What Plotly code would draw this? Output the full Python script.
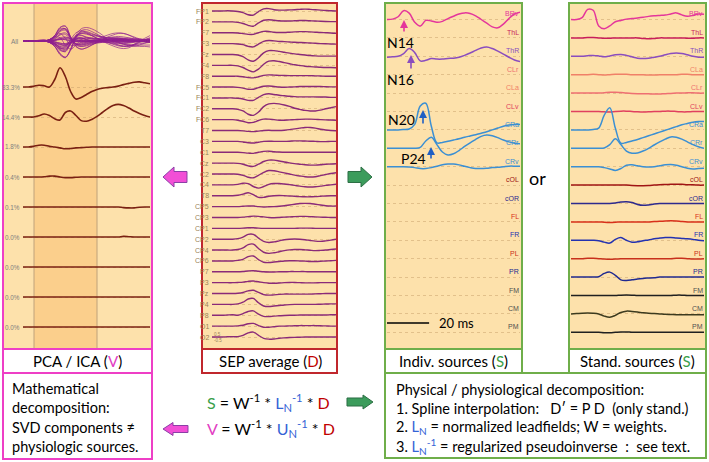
import plotly.graph_objects as go

# ------------------------------------------------------------------ data
time_ms = [0, 2.5, 5, 7.5, 10, 12.5, 15, 17.5, 20, 22.5, 25, 27.5, 30,
           32.5, 35, 37.5, 40, 42.5, 45, 47.5, 50, 52.5, 55, 57.5, 60]

# PCA / ICA components (left panel)
pca_labels = ["83.3%", "14.4%", "1.8%", "0.4%", "0.1%", "0.0%", "0.0%", "0.0%", "0.0%"]
pca_1 = [0, 0, 0.02, 0.06, 0.04, 0.0, 0.25, 0.64, 0.35, -0.15, -0.4, -0.35, -0.25,
         -0.15, -0.08, -0.04, -0.02, 0, 0.03, 0.08, 0.12, 0.16, 0.17, 0.14, 0.11]
pca_2 = [0, 0, 0, 0.04, 0.1, 0.05, -0.06, -0.1, 0.15, 0.2, 0.05, -0.12, -0.14,
         -0.08, 0.02, 0.15, 0.28, 0.38, 0.42, 0.38, 0.3, 0.2, 0.12, 0.05, 0.0]
pca_3 = [0, 0, 0.02, 0.06, 0.06, 0.02, 0, -0.03, -0.06, -0.05, -0.03, -0.02, -0.01,
         0, 0, 0, 0, 0, 0, 0, 0, 0, 0, 0, 0]
pca_4 = [0, 0, 0, 0, 0.01, 0.03, 0.03, 0, -0.02, -0.02, -0.01, 0, 0,
         0, 0, 0, 0, 0, 0, 0, 0, 0, 0, 0, 0]
pca_5 = [0, 0, 0, 0, 0, 0, 0, 0, 0, 0, 0, 0, 0,
         0, 0, 0, 0, 0, 0, -0.02, -0.03, -0.03, -0.01, 0, 0]
pca_6 = [0, 0, 0, 0, 0, 0, 0, 0, 0, 0, 0, 0, 0,
         0, 0, 0, 0, 0, 0, 0.02, 0.01, 0, 0, 0, 0]
pca_7 = [0, 0, 0, 0, 0, 0, 0, 0, 0, 0, 0, 0, 0,
         0, 0, 0, 0, 0, 0, 0, 0, 0, 0, 0, 0]
pca_8 = [0, 0, 0, 0, 0, 0, 0, 0, 0, 0, 0, 0, 0,
         0, 0, 0, 0, 0, 0, 0, 0, 0, 0, 0, 0]
pca_9 = [0, 0, 0, 0, 0, 0, 0, 0, 0, 0, 0, 0, 0,
         0, 0, 0, 0, 0, 0, 0, 0, 0, 0, 0, 0]

# SEP average channels (middle panel)
sep_channels = ["FP1", "FP2", "F7", "F3", "Fz", "F4", "F8", "FC5", "FC1", "FC2", "FC6",
                "T7", "C3", "C1", "Cz", "C2", "C4", "T8", "CP5", "CP3", "CP1", "CP2",
                "CP4", "CP6", "P7", "P3", "Pz", "P4", "P8", "O1", "O2"]
sep_FP1 = [0, 0, 0, 0.02, 0, -0.05, -0.15, -0.35, -0.38, -0.05, 0.2, 0.22, 0.12, 0.08, 0.08, 0.1, 0.12, 0.15, 0.17, 0.15, 0.12, 0.08, 0.05, 0.02, 0.0]
sep_FP2 = [0, 0, 0, 0, 0, -0.05, -0.15, -0.32, -0.4, -0.1, 0.15, 0.2, 0.15, 0.1, 0.08, 0.08, 0.1, 0.12, 0.12, 0.1, 0.08, 0.05, 0.03, 0.02, 0.02]
sep_F7 = [0, 0, 0, 0, 0, -0.02, -0.08, -0.15, -0.15, 0, 0.12, 0.12, 0.05, 0.02, 0.02, 0.05, 0.08, 0.1, 0.1, 0.08, 0.05, 0.02, 0, -0.02, -0.05]
sep_F3 = [0, 0, 0, 0, 0, -0.03, -0.1, -0.25, -0.3, -0.05, 0.2, 0.28, 0.25, 0.2, 0.18, 0.15, 0.12, 0.1, 0.08, 0.05, 0.03, 0.0, -0.02, -0.03, -0.05]
sep_Fz = [0, 0, 0, 0, 0, -0.05, -0.2, -0.5, -0.62, -0.3, 0.15, 0.35, 0.35, 0.28, 0.2, 0.12, 0.05, 0, -0.05, -0.1, -0.13, -0.15, -0.15, -0.15, -0.15]
sep_F4 = [0, 0, 0, 0, 0, -0.05, -0.2, -0.45, -0.6, -0.35, 0.1, 0.38, 0.42, 0.35, 0.25, 0.15, 0.05, -0.02, -0.08, -0.12, -0.15, -0.18, -0.2, -0.2, -0.22]
sep_F8 = [0, 0, 0, 0, 0, 0, -0.05, -0.12, -0.15, -0.05, 0.08, 0.12, 0.1, 0.08, 0.06, 0.05, 0.05, 0.05, 0.05, 0.05, 0.03, 0.02, 0, 0, 0]
sep_FC5 = [0, 0, 0, 0, 0, -0.03, -0.1, -0.2, -0.2, -0.05, 0.08, 0.1, 0.05, 0, -0.02, 0, 0.02, 0.05, 0.05, 0.05, 0.05, 0.05, 0.03, 0.02, 0.02]
sep_FC1 = [0, 0, 0, 0, 0, -0.03, -0.1, -0.22, -0.22, 0.05, 0.3, 0.38, 0.32, 0.25, 0.2, 0.15, 0.12, 0.1, 0.1, 0.1, 0.1, 0.08, 0.08, 0.05, 0.05]
sep_FC2 = [0, 0, 0, 0, 0, -0.05, -0.2, -0.5, -0.6, -0.3, 0.2, 0.45, 0.5, 0.45, 0.35, 0.22, 0.05, -0.05, -0.15, -0.2, -0.2, -0.12, 0.0, 0.1, 0.2]
sep_FC6 = [0, 0, 0, 0, 0, -0.05, -0.15, -0.28, -0.25, -0.08, 0.05, 0.05, 0, -0.05, -0.05, -0.02, 0, 0.03, 0.05, 0.05, 0.03, 0, -0.02, -0.03, -0.05]
sep_T7 = [0, 0, 0, 0, 0, 0, -0.03, -0.08, -0.1, -0.05, 0, 0.02, 0, 0, 0.03, 0.08, 0.15, 0.22, 0.28, 0.28, 0.22, 0.12, 0.05, 0, -0.02]
sep_C3 = [0, 0, 0, 0, 0, 0, -0.05, -0.12, -0.15, -0.08, 0, 0.02, 0, 0, 0, 0.02, 0.05, 0.05, 0.03, 0.02, 0, -0.02, -0.02, 0, 0]
sep_C1 = [0, 0, 0, 0, 0, 0, -0.03, -0.08, -0.1, 0, 0.08, 0.1, 0.05, 0.02, 0, 0, 0, 0, 0, 0, 0, 0, 0, 0, 0]
sep_Cz = [0, 0, 0, 0, 0, -0.02, -0.1, -0.25, -0.3, -0.1, 0.15, 0.28, 0.28, 0.2, 0.1, 0.02, -0.05, -0.1, -0.15, -0.18, -0.18, -0.15, -0.1, -0.08, -0.05]
sep_C2 = [0, 0, 0, 0, 0, -0.02, -0.12, -0.3, -0.35, -0.12, 0.15, 0.32, 0.3, 0.2, 0.1, 0, -0.1, -0.18, -0.25, -0.28, -0.25, -0.15, -0.05, 0.05, 0.12]
sep_C4 = [0, 0, 0, 0, 0, 0.05, 0.15, 0.12, -0.15, -0.3, -0.15, 0.05, 0.12, 0.12, 0.08, 0.02, -0.05, -0.12, -0.18, -0.2, -0.18, -0.12, -0.05, 0, 0.05]
sep_T8 = [0, 0, 0, 0, 0, 0.05, 0.15, 0.28, 0.1, -0.15, -0.15, -0.05, 0, 0.02, 0, -0.03, -0.05, -0.08, -0.1, -0.1, -0.08, -0.05, -0.02, 0, 0]
sep_CP5 = [0, 0, 0, 0, 0, 0, 0.03, 0.06, 0.05, 0, -0.03, -0.02, 0, 0.03, 0.08, 0.15, 0.22, 0.28, 0.3, 0.28, 0.22, 0.15, 0.08, 0.05, 0.05]
sep_CP3 = [0, 0, 0, 0, 0, 0, 0.03, 0.08, 0.12, 0.1, 0.05, 0, -0.02, 0, 0.03, 0.05, 0.08, 0.1, 0.1, 0.08, 0.05, 0.03, 0.02, 0, 0]
sep_CP1 = [0, 0, 0, 0, 0, 0, 0.02, 0.05, 0.05, 0.02, 0, 0, 0, 0, 0, 0, 0, 0.02, 0.02, 0.02, 0, 0, 0, 0, 0]
sep_CP2 = [0, 0, 0, 0, 0, 0.05, 0.2, 0.45, 0.45, 0.1, -0.2, -0.3, -0.25, -0.15, -0.05, 0, 0.02, 0, -0.05, -0.12, -0.18, -0.2, -0.15, -0.08, 0]
sep_CP4 = [0, 0, 0, 0, 0, 0.05, 0.2, 0.5, 0.55, 0.15, -0.2, -0.3, -0.25, -0.15, -0.05, 0.02, 0.05, 0.05, 0.02, -0.02, -0.05, -0.03, 0, 0.05, 0.1]
sep_CP6 = [0, 0, 0, 0, 0, 0.05, 0.15, 0.4, 0.45, 0.12, -0.12, -0.15, -0.1, -0.05, 0, 0.02, 0.02, 0, -0.02, -0.05, -0.05, -0.03, 0, 0.02, 0.05]
sep_P7 = [0, 0, 0, 0, 0, 0, 0.03, 0.08, 0.1, 0.05, 0, -0.02, -0.02, 0, 0, 0.02, 0.02, 0.02, 0.02, 0, 0, 0, 0, 0, 0]
sep_P3 = [0, 0, 0, 0, 0, 0.02, 0.05, 0.12, 0.15, 0.08, 0, -0.05, -0.05, -0.03, 0, 0.02, 0.02, 0, -0.02, -0.02, -0.02, 0, 0, 0, 0]
sep_Pz = [0, 0, 0, 0, 0, 0.03, 0.1, 0.25, 0.3, 0.1, -0.1, -0.15, -0.12, -0.08, -0.05, -0.05, -0.05, -0.05, -0.05, -0.05, -0.03, -0.02, 0, 0, 0]
sep_P4 = [0, 0, 0, 0, 0, 0.05, 0.2, 0.5, 0.55, 0.15, -0.15, -0.2, -0.15, -0.1, -0.05, -0.02, 0, 0, 0, 0, 0, 0.02, 0.03, 0.05, 0.05]
sep_P8 = [0, 0, 0, 0.03, 0.05, 0, 0.15, 0.35, 0.4, 0.1, -0.1, -0.12, -0.08, -0.05, -0.02, 0, 0, 0.02, 0.02, 0.02, 0.02, 0.03, 0.03, 0.05, 0.05]
sep_O1 = [0, 0, 0, 0, 0, 0.02, 0.08, 0.22, 0.25, 0.05, -0.1, -0.1, -0.05, 0, 0, 0.02, 0.03, 0.05, 0.05, 0.05, 0.05, 0.03, 0.02, 0, 0]
sep_O2 = [0, 0, 0, 0.02, 0.03, 0.03, 0.15, 0.38, 0.45, 0.15, -0.12, -0.2, -0.18, -0.12, -0.08, -0.05, -0.03, -0.02, 0, 0, 0, 0, 0, 0, 0]

# Source waveforms (right panels)
ind_sources = ["BRv", "ThL", "ThR", "CLr", "CLa", "CLv", "CRa", "CRr", "CRv",
               "cOL", "cOR", "FL", "FR", "PL", "PR", "FM", "CM", "PM"]
std_sources = ["BRv", "ThL", "ThR", "CLa", "CLr", "CLv", "CRa", "CRr", "CRv",
               "cOL", "cOR", "FL", "FR", "PL", "PR", "FM", "CM", "PM"]

ind_BRv = [0, 0.02, 0.15, 0.48, 0.35, -0.15, -0.36, -0.05, -0.08, -0.15, -0.1, 0.05, 0.18, 0.3, 0.36, 0.33, 0.2, 0.0, -0.2, -0.4, -0.45, -0.25, 0.05, 0.3, 0.4]
ind_ThR = [-0.05, -0.03, 0.0, 0.15, 0.42, 0.2, -0.25, -0.22, -0.12, -0.15, -0.15, -0.12, -0.1, -0.05, 0.05, 0.18, 0.32, 0.45, 0.5, 0.42, 0.28, 0.12, -0.05, -0.2, -0.28]
ind_CRa = [0, 0, 0, 0.02, 0.05, 0.3, 1.3, 1.45, 0.2, -0.7, -0.68, -0.62, -0.55, -0.48, -0.4, -0.33, -0.26, -0.18, -0.1, 0.0, 0.1, 0.2, 0.27, 0.3, 0.3]
ind_CRr = [0, 0, 0, 0, 0, 0, 0.05, 0.4, 0.6, 0.2, -0.2, -0.36, -0.3, -0.12, 0.1, 0.3, 0.48, 0.65, 0.72, 0.68, 0.58, 0.45, 0.35, 0.28, 0.25]
ind_CRv = [0, 0, 0, 0, -0.02, -0.05, -0.1, -0.1, -0.05, 0.03, 0.1, 0.14, 0.15, 0.1, 0.02, -0.05, -0.1, -0.1, -0.08, -0.05, -0.03, 0.0, 0.03, 0.03, 0.02]

std_BRv = [0, 0, 0.1, 0.55, 0.5, -0.35, -0.5, -0.35, -0.12, -0.05, 0.02, 0.05, 0.08, 0.12, 0.17, 0.2, 0.22, 0.24, 0.3, 0.36, 0.25, 0.18, 0.22, 0.3, 0.28]
std_ThL = [0, 0, 0, 0.02, 0.02, 0, -0.02, -0.02, 0, 0, 0, 0, 0, -0.03, -0.05, -0.03, 0, 0, 0, 0, 0, -0.02, -0.02, 0, 0]
std_ThR = [0, 0, 0, 0.03, 0.05, 0.02, -0.03, 0.02, 0.08, 0.1, 0.05, -0.03, -0.1, -0.12, -0.1, -0.05, 0.0, 0.08, 0.15, 0.18, 0.15, 0.08, 0.0, -0.05, -0.05]
std_CLa = [0, 0, 0, 0, 0.02, 0, -0.02, 0, 0.02, 0.03, 0.02, 0, 0, 0, -0.02, -0.02, 0, 0, 0, 0, 0.02, 0.02, 0, 0, 0]
std_CLr = [0, 0, 0, 0, 0, 0, 0.02, 0.04, 0.05, 0.03, 0, -0.02, -0.03, -0.03, -0.04, -0.05, -0.05, -0.03, -0.02, 0, 0, 0.02, 0.02, 0, 0]
std_CLv = [0, 0, 0, 0, 0, 0, -0.02, -0.03, 0, 0.02, 0.02, 0, -0.02, -0.03, -0.02, 0, 0, 0.02, 0.02, 0, -0.02, -0.02, 0, 0, 0]
std_CRa = [0, 0, 0, 0, 0.02, 0.1, 0.8, 1.2, 0.1, -0.72, -0.68, -0.6, -0.52, -0.42, -0.32, -0.22, -0.12, -0.02, 0.08, 0.18, 0.28, 0.35, 0.42, 0.45, 0.45]
std_CRr = [0, 0, 0, 0, 0, 0, 0.02, 0.2, 0.52, 0.2, -0.15, -0.27, -0.25, -0.15, 0.0, 0.18, 0.35, 0.5, 0.62, 0.6, 0.5, 0.35, 0.2, 0.08, 0.0]
std_CRv = [0, 0, 0, 0, 0, 0, -0.05, -0.12, -0.2, -0.1, 0.08, 0.1, 0.05, 0.0, -0.02, 0.0, 0.05, 0.1, 0.12, 0.08, 0.0, -0.08, -0.12, -0.1, -0.08]
std_cOL = [0, 0, 0, 0, 0, 0, 0, 0, 0, 0, 0, -0.02, -0.03, -0.03, -0.02, 0, 0.02, 0.03, 0.04, 0.05, 0.04, 0.02, 0.02, 0, 0]
std_cOR = [0, 0, 0, 0, 0, 0, 0, 0, 0.03, 0.08, 0.1, 0.05, -0.05, -0.1, -0.08, -0.03, 0, 0, 0, 0, 0, 0, 0, 0, 0]
std_FL = [0, 0, 0, 0, 0, 0, -0.02, -0.03, -0.02, 0, 0, 0, 0, 0, 0, 0.02, 0.03, 0.05, 0.06, 0.05, 0.02, 0, 0, 0, 0]
std_FR = [0, 0, 0, 0, 0, -0.02, -0.1, -0.15, 0.05, 0.15, 0.0, -0.1, -0.08, -0.02, 0.02, 0.08, 0.12, 0.15, 0.15, 0.12, 0.1, 0.08, 0.05, 0.0, -0.02]
std_PL = [0, 0, 0, 0.02, 0.02, 0, -0.02, -0.03, -0.02, 0, 0, 0, 0, 0, 0, 0, 0, 0, 0, 0.02, 0.02, 0, -0.02, -0.02, 0]
std_PR = [0, 0, 0, 0, 0, 0.02, 0.2, 0.27, 0.1, -0.15, -0.18, -0.15, -0.1, -0.07, -0.05, -0.03, 0, 0, 0, 0, 0, 0, 0, 0, 0]
std_FM = [0, 0, 0, 0, 0, 0, 0, 0, 0, 0.02, 0.03, 0.02, 0, 0, 0, 0, 0, 0, 0, 0.02, 0.02, 0, 0, 0, 0]
std_CM = [0, 0.02, 0.04, 0.05, 0.04, 0.0, -0.12, -0.18, -0.08, 0.08, 0.15, 0.13, 0.1, 0.06, 0.03, 0.02, 0, -0.02, -0.03, -0.04, -0.04, -0.05, -0.05, -0.05, -0.05]
std_PM = [0, 0, 0, 0, 0, 0, -0.02, -0.02, 0, 0.02, 0.02, 0, 0, 0, 0, 0, 0, 0, 0, 0, 0, 0, 0, 0, 0]

# ------------------------------------------------------------------ styles / layout geometry
W, H = 709, 462
def px(x):
    return x / W
def py(y):
    return 1 - y / H

FONT = "Lato"
SMALL = "Liberation Sans"
BG = "#FDE1AB"
BAND = "#FBCF8C"
PINK = "#EE3FC6"
DARKRED = "#C0272D"
GREEN = "#6FAE4A"
S_GREEN = "#3AA04A"
V_PINK = "#E23CC2"
L_BLUE = "#3463D6"
D_RED = "#C00000"

src_color = {
    "BRv": "#E4369B", "ThL": "#C81D5A", "ThR": "#8A4DBE", "CLr": "#EE6F72",
    "CLa": "#F08068", "CLv": "#E0405F", "CRa": "#3B8FD3", "CRr": "#3B8FD3",
    "CRv": "#3B8FD3", "cOL": "#A01414", "cOR": "#2E2A8E", "FL": "#D8301A",
    "FR": "#2432B0", "PL": "#C8301C", "PR": "#202A90", "FM": "#202020",
    "CM": "#3C3A1E", "PM": "#202020",
}
src_label_color = dict(src_color)
src_label_color.update({"FM": "#505050", "CM": "#505050", "PM": "#505050"})

fig = go.Figure()

PANEL_TOP, PANEL_BOT = 3, 349

# ---------------- left panel axes (rows of 30 px, row 0 at y=87)
L_ROW0, L_SP = 87, 30
all_row = -(41 - L_ROW0) / L_SP
pca_list = [pca_1, pca_2, pca_3, pca_4, pca_5, pca_6, pca_7, pca_8, pca_9]
sep_list = [sep_FP1, sep_FP2, sep_F7, sep_F3, sep_Fz, sep_F4, sep_F8, sep_FC5, sep_FC1,
            sep_FC2, sep_FC6, sep_T7, sep_C3, sep_C1, sep_Cz, sep_C2, sep_C4, sep_T8,
            sep_CP5, sep_CP3, sep_CP1, sep_CP2, sep_CP4, sep_CP6, sep_P7, sep_P3,
            sep_Pz, sep_P4, sep_P8, sep_O1, sep_O2]

BUTTERFLY_GAIN = 0.9
for vals in sep_list:
    fig.add_trace(go.Scatter(x=time_ms, y=[all_row + BUTTERFLY_GAIN * v for v in vals],
                             mode="lines", line=dict(color="#8E1E8E", width=0.8, shape="spline"),
                             opacity=0.85, xaxis="x", yaxis="y", hoverinfo="skip",
                             showlegend=False))
for k, vals in enumerate(pca_list):
    fig.add_trace(go.Scatter(x=time_ms, y=[-k + v for v in vals], mode="lines",
                             line=dict(color="#7A2012", width=1.6, shape="spline"),
                             xaxis="x", yaxis="y", hoverinfo="skip", showlegend=False))

# ---------------- middle panel
M_ROW0 = 11
M_SP = (337 - 11) / 30
for k, vals in enumerate(sep_list):
    fig.add_trace(go.Scatter(x=time_ms, y=[-k + v for v in vals], mode="lines",
                             line=dict(color="#8A2A78", width=1.4, shape="spline"),
                             xaxis="x2", yaxis="y2", hoverinfo="skip", showlegend=False))

# ---------------- right panels
R_ROW0, R_SP = 19.5, 18.4
ind_traces = {"BRv": ind_BRv, "ThR": ind_ThR, "CRa": ind_CRa, "CRr": ind_CRr, "CRv": ind_CRv}
for name, vals in ind_traces.items():
    k = ind_sources.index(name)
    fig.add_trace(go.Scatter(x=time_ms, y=[-k + v for v in vals], mode="lines",
                             line=dict(color=src_color[name], width=1.5, shape="spline"),
                             xaxis="x3", yaxis="y3", hoverinfo="skip", showlegend=False))
std_list = [std_BRv, std_ThL, std_ThR, std_CLa, std_CLr, std_CLv, std_CRa, std_CRr, std_CRv,
            std_cOL, std_cOR, std_FL, std_FR, std_PL, std_PR, std_FM, std_CM, std_PM]
for k, (name, vals) in enumerate(zip(std_sources, std_list)):
    fig.add_trace(go.Scatter(x=time_ms, y=[-k + v for v in vals], mode="lines",
                             line=dict(color=src_color[name], width=1.5, shape="spline"),
                             xaxis="x4", yaxis="y4", hoverinfo="skip", showlegend=False))

# 20 ms scale bar (indiv panel)
scale_bar_ms = [-1, 19]
fig.add_trace(go.Scatter(x=scale_bar_ms, y=[-(len(ind_sources) - 1) + 0.5] * 2, mode="lines",
                         line=dict(color="black", width=1.5), xaxis="x3", yaxis="y3",
                         hoverinfo="skip", showlegend=False, cliponaxis=False))


def yrange(row0, sp):
    return [-(PANEL_BOT - row0) / sp, (row0 - PANEL_TOP) / sp]


ydom = [py(PANEL_BOT), py(PANEL_TOP)]
common_x = dict(range=[0, 60], showgrid=False, zeroline=False, showticklabels=False,
                ticks="", showline=False, fixedrange=True)
grid_y = dict(showgrid=True, griddash="dot", gridcolor="rgba(200,160,105,0.5)", gridwidth=1,
              zeroline=False, showticklabels=False, ticks="", showline=False, fixedrange=True)

fig.update_layout(
    width=W, height=H, margin=dict(l=0, r=0, t=0, b=0),
    paper_bgcolor="white", plot_bgcolor="rgba(0,0,0,0)",
    xaxis=dict(domain=[px(23), px(150)], **common_x),
    yaxis=dict(domain=ydom, range=yrange(L_ROW0, L_SP),
               tickvals=[-k for k in range(len(pca_list))], **grid_y),
    xaxis2=dict(domain=[px(212), px(336)], **common_x),
    yaxis2=dict(domain=ydom, range=yrange(M_ROW0, M_SP),
                tickvals=[-k for k in range(len(sep_list))], **grid_y),
    xaxis3=dict(domain=[px(387), px(520)], **common_x),
    yaxis3=dict(domain=ydom, range=yrange(R_ROW0, R_SP),
                tickvals=[-k for k in range(len(ind_sources))], **grid_y),
    xaxis4=dict(domain=[px(571), px(704)], **common_x),
    yaxis4=dict(domain=ydom, range=yrange(R_ROW0, R_SP),
                tickvals=[-k for k in range(len(std_sources))], **grid_y),
)

shapes = []
def rect(x0, y0, x1, y1, fill=None, line=None, lw=2, layer="below"):
    shapes.append(dict(type="rect", xref="paper", yref="paper",
                       x0=px(x0), x1=px(x1), y0=py(y1), y1=py(y0),
                       fillcolor=fill if fill else "rgba(0,0,0,0)",
                       line=dict(color=line if line else "rgba(0,0,0,0)", width=lw if line else 0),
                       layer=layer))

def vline(x, y0, y1, color, w=1):
    shapes.append(dict(type="line", xref="paper", yref="paper", x0=px(x), x1=px(x),
                       y0=py(y0), y1=py(y1), line=dict(color=color, width=w), layer="below"))

rect(3, PANEL_TOP, 152, PANEL_BOT, fill=BG)
rect(34, PANEL_TOP, 97, PANEL_BOT, fill=BAND)
vline(34, PANEL_TOP, PANEL_BOT, "#BFA27A")
vline(97, PANEL_TOP, PANEL_BOT, "#BFA27A")
rect(202, PANEL_TOP, 337, PANEL_BOT, fill=BG)
rect(385, PANEL_TOP, 522, PANEL_BOT, fill=BG)
rect(569, PANEL_TOP, 706, PANEL_BOT, fill=BG)

rect(3, PANEL_TOP, 152, PANEL_BOT, line=PINK, layer="above")
rect(3, 349, 152, 373, line=PINK, layer="above")
rect(3, 373, 152, 459, line=PINK, layer="above")
rect(202, PANEL_TOP, 337, PANEL_BOT, line=DARKRED, layer="above")
rect(202, 349, 337, 373, line=DARKRED, layer="above")
rect(385, PANEL_TOP, 522, PANEL_BOT, line=GREEN, layer="above")
rect(385, 349, 522, 373, line=GREEN, layer="above")
rect(569, PANEL_TOP, 706, PANEL_BOT, line=GREEN, layer="above")
rect(569, 349, 706, 373, line=GREEN, layer="above")
rect(385, 373, 706, 458, line=GREEN, layer="above")


def block_arrow(x_tip, x_tail, yc, head_len, head_h, shaft_h, fill, edge):
    d = 1 if x_tail > x_tip else -1
    xh = x_tip + d * head_len
    pts = [(x_tip, yc), (xh, yc - head_h / 2), (xh, yc - shaft_h / 2), (x_tail, yc - shaft_h / 2),
           (x_tail, yc + shaft_h / 2), (xh, yc + shaft_h / 2), (xh, yc + head_h / 2)]
    path = "M " + " L ".join(f"{px(a):.5f},{py(b):.5f}" for a, b in pts) + " Z"
    shapes.append(dict(type="path", xref="paper", yref="paper", path=path,
                       fillcolor=fill, line=dict(color=edge, width=1), layer="above"))

block_arrow(163, 187, 177, 11, 20, 11, "#F24FD6", "#8A3FA6")
block_arrow(372, 348, 177, 11, 20, 11, "#3C9C5C", "#2C6E44")
block_arrow(163, 188, 429, 10, 13, 7, "#F24FD6", "#8A3FA6")
block_arrow(373, 347, 402, 10, 14, 8, "#3C9C5C", "#2C6E44")

fig.update_layout(shapes=shapes)

ann = []
def text(x, y, s, size=14, color="black", xanchor="left", family=FONT, yanchor="middle"):
    ann.append(dict(xref="paper", yref="paper", x=px(x), y=py(y), text=s, showarrow=False,
                    xanchor=xanchor, yanchor=yanchor, font=dict(size=size, color=color, family=family)))

text(21, 41, "All", 6.5, "#7F7F7F", "right", SMALL)
for k, lab in enumerate(pca_labels):
    text(21.5, L_ROW0 + k * L_SP, lab, 6.3, "#7F7F7F", "right", SMALL)
for k, lab in enumerate(sep_channels):
    text(211, M_ROW0 + k * M_SP, lab, 7, "#9A8258", "right", SMALL)
text(212, 334, "0.5", 4.5, "#9A8258", "left", SMALL)
text(212, 340, "-0.5", 4.5, "#9A8258", "left", SMALL)
for k, lab in enumerate(ind_sources):
    text(521, R_ROW0 + k * R_SP - 5.5, lab, 7, src_label_color[lab], "right", SMALL)
for k, lab in enumerate(std_sources):
    text(705, R_ROW0 + k * R_SP - 5.5, lab, 7, src_label_color[lab], "right", SMALL)

text(400, 42, "N14", 14, "black", "center")
text(400, 79, "N16", 14, "black", "center")
text(401, 120, "N20", 14, "black", "center")
text(413, 158, "P24", 14, "black", "center")
text(437, 323, "20 ms", 13, "black", "left")
text(537, 178, "or", 18, "black", "center")

def up_arrow(x, y_tip, y_tail, color):
    ann.append(dict(xref="paper", yref="paper", x=px(x), y=py(y_tip), ax=0, ay=y_tail - y_tip,
                    axref="pixel", ayref="pixel", text="", showarrow=True, arrowhead=2,
                    arrowsize=1, arrowwidth=1.6, arrowcolor=color, standoff=0, startstandoff=0))

up_arrow(404, 20, 33, "#E4369B")
up_arrow(411, 55, 70, "#8A4DBE")
up_arrow(423, 110, 125, "#1F5FC4")
up_arrow(431, 147, 160, "#1F5FC4")

text(77, 361, f"PCA / ICA (<span style='color:{V_PINK}'>V</span>)", 15, "black", "center")
text(270, 361, f"SEP average (<span style='color:{D_RED}'>D</span>)", 15, "black", "center")
text(453, 361, f"Indiv. sources (<span style='color:{S_GREEN}'>S</span>)", 15, "black", "center")
text(637, 361, f"Stand. sources (<span style='color:{S_GREEN}'>S</span>)", 15, "black", "center")

for y, s in zip([388, 407, 427, 446],
                ["Mathematical", "decomposition:", "SVD components ≠", "physiologic sources."]):
    text(10, y, s, 14.5)

text(205, 402, f"<span style='color:{S_GREEN}'>S</span> = W<sup>-1</sup> * "
               f"<span style='color:{L_BLUE}'>L<sub>N</sub><sup>-1</sup></span> * "
               f"<span style='color:{D_RED}'>D</span>", 16)
text(205, 428, f"<span style='color:{V_PINK}'>V</span> = W<sup>-1</sup> * "
               f"<span style='color:{L_BLUE}'>U<sub>N</sub><sup>-1</sup></span> * "
               f"<span style='color:{D_RED}'>D</span>", 16)

right_lines = [
    "Physical / physiological decomposition:",
    "1. Spline interpolation:   D\u2032 = P D  (only stand.)",
    f"2. <span style='color:{L_BLUE}'>L<sub>N</sub></span> = normalized leadfields; W = weights.",
    f"3. <span style='color:{L_BLUE}'>L<sub>N</sub><sup>-1</sup></span> = regularized pseudoinverse  :  see text.",
]
for y, s in zip([389, 408, 427, 446], right_lines):
    text(394, y, s, 14.5)

fig.update_layout(annotations=ann)
fig.write_html("out.html", config={"displayModeBar": False, "staticPlot": True})

# remove the default page margin so the figure sits at the window origin
with open("out.html", encoding="utf-8") as f:
    html = f.read()
html = html.replace("<body>", "<body style=\"margin:0;padding:0;overflow:hidden\">", 1)
with open("out.html", "w", encoding="utf-8") as f:
    f.write(html)
